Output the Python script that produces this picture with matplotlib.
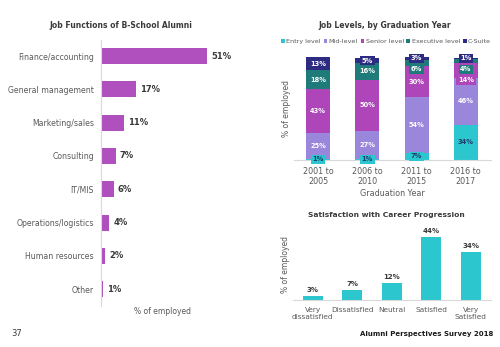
import numpy as np
import matplotlib.pyplot as plt

plt.rcParams['font.family'] = ['DejaVu Sans']

# job functions
functions = ["Finance/accounting", "General management", "Marketing/sales", "Consulting",
             "IT/MIS", "Operations/logistics", "Human resources", "Other"]
func_pct = [51, 17, 11, 7, 6, 4, 2, 1]

# job levels by graduation year
years = ["2001 to\n2005", "2006 to\n2010", "2011 to\n2015", "2016 to\n2017"]
levels = ["Entry level", "Mid-level", "Senior level", "Executive level", "C-Suite"]
entry = [1, 1, 7, 34]
mid = [25, 27, 54, 46]
senior = [43, 50, 30, 14]
executive = [18, 16, 6, 4]
csuite = [13, 5, 3, 1]

# satisfaction
sat_labels = ["Very\ndissatisfied", "Dissatisfied", "Neutral", "Satisfied", "Very\nSatisfied"]
sat_pct = [3, 7, 12, 44, 34]

level_colors = ["#2CC7CE", "#9A86DA", "#AE45B8", "#1F7B79", "#2E2C82"]
purple = "#B04FBE"
cyan = "#2CC7CE"
grey = "#595959"
dark = "#3A3A3A"
axis_col = "#D9D9D9"

fig = plt.figure(figsize=(5, 3.47), dpi=100)

# ---- left: job functions ----
ax1 = fig.add_axes([0.202, 0.119, 0.25, 0.767])
y = np.arange(len(functions))
ax1.barh(y, func_pct, height=0.48, color=purple)
ax1.set_ylim(len(functions) - 0.5, -0.5)
ax1.set_xlim(0, 60)
ax1.set_yticks(y)
ax1.set_yticklabels(functions, fontsize=5.6, color=grey)
ax1.tick_params(axis='y', length=0, pad=5)
ax1.set_xticks([])
for s in ["top", "right", "bottom"]:
    ax1.spines[s].set_visible(False)
ax1.spines["left"].set_color(axis_col)
for yi, v in zip(y, func_pct):
    ax1.text(v + 1.8, yi, f"{v}%", va="center", ha="left", fontsize=6, fontweight="bold", color=dark)
fig.text(0.242, 1 - 25 / 347, "Job Functions of B-School Alumni", ha="center", va="center",
         fontsize=5.5, fontweight="bold", color=dark)
fig.text(0.326, 1 - 312 / 347, "% of employed", ha="center", va="center", fontsize=5.5, color=grey)
fig.text(0.034, 1 - 334 / 347, "37", ha="center", va="center", fontsize=6, color=dark)

# ---- top right: job levels ----
ax2 = fig.add_axes([0.587, 0.539, 0.394, 0.297])
x = np.arange(len(years))
series = [entry, mid, senior, executive, csuite]
tops = np.cumsum(np.array(series), axis=0)
bottoms = tops - np.array(series)
for i, (name, vals) in enumerate(zip(levels, series)):
    ax2.bar(x, vals, 0.49, bottom=bottoms[i], color=level_colors[i], label=name)

# label positions: segment centres, pushed down from the top so boxes don't collide
for j in x:
    prev = None
    for i in range(len(series) - 1, -1, -1):
        v = series[i][j]
        yc = bottoms[i][j] + v / 2
        if prev is not None and prev - yc < 10.5:
            yc = prev - 10.5
        prev = yc
        tc = "#1F3B6B" if i == 0 else "white"
        ax2.text(j, yc, f"{v}%", ha="center", va="center", fontsize=4.8,
                 fontweight="bold", color=tc,
                 bbox=dict(boxstyle="square,pad=0.25", fc=level_colors[i], ec="none"))
ax2.set_xlim(-0.5, 3.5)
ax2.set_ylim(0, 100)
ax2.set_xticks(x)
ax2.set_xticklabels(years, fontsize=5.8, color=grey, linespacing=1.15)
ax2.tick_params(axis='x', length=0, pad=5)
ax2.set_yticks([])
for s in ["top", "right", "left"]:
    ax2.spines[s].set_visible(False)
ax2.spines["bottom"].set_color(axis_col)
ax2.set_ylabel("% of employed", fontsize=5.5, color=grey, labelpad=2)
ax2.set_xlabel("Graduation Year", fontsize=5.8, color=grey, labelpad=2)
ax2.legend(loc="center", bbox_to_anchor=(0.47, 1.15), ncol=5, frameon=False,
           fontsize=4.6, handlelength=0.6, handleheight=0.6, handletextpad=0.2,
           columnspacing=0.4, labelcolor=grey, borderaxespad=0)
fig.text(0.77, 1 - 25 / 347, "Job Levels, by Graduation Year", ha="center", va="center",
         fontsize=5.5, fontweight="bold", color=dark)

# ---- bottom right: satisfaction ----
ax3 = fig.add_axes([0.586, 0.135, 0.395, 0.206])
xs = np.arange(len(sat_labels))
ax3.bar(xs, sat_pct, 0.5, color=cyan)
ax3.set_xlim(-0.5, 4.5)
ax3.set_ylim(0, 50)
ax3.set_xticks(xs)
ax3.set_xticklabels(sat_labels, fontsize=5.3, color=grey, linespacing=1.1)
ax3.tick_params(axis='x', length=0, pad=5)
ax3.set_yticks([])
for s in ["top", "right", "left"]:
    ax3.spines[s].set_visible(False)
ax3.spines["bottom"].set_color(axis_col)
for xi, v in zip(xs, sat_pct):
    ax3.text(xi, v + 2, f"{v}%", ha="center", va="bottom", fontsize=5, fontweight="bold", color=dark)
ax3.set_ylabel("% of employed", fontsize=5.5, color=grey, labelpad=2)
fig.text(0.772, 1 - 215 / 347, "Satisfaction with Career Progression", ha="center", va="center",
         fontsize=5.4, fontweight="bold", color=dark)
fig.text(0.986, 1 - 334 / 347, "Alumni Perspectives Survey 2018", ha="right", va="center",
         fontsize=5, fontweight="bold", color="#1A1A1A")

fig.savefig("out.png", dpi=100)
